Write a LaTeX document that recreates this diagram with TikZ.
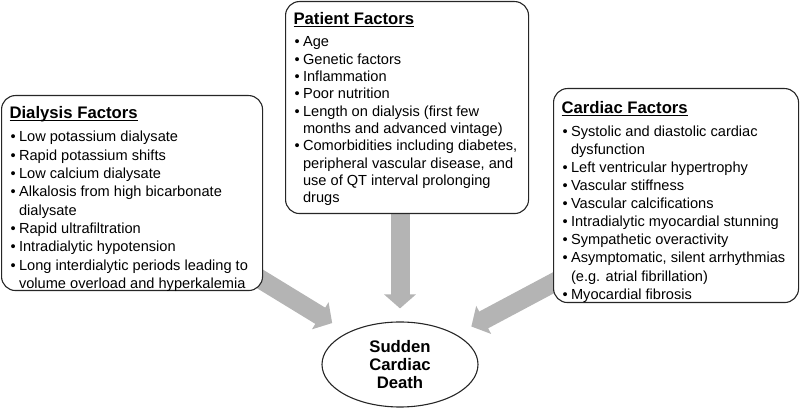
\documentclass[tikz,border=0pt]{standalone}
\usepackage{fontspec}
\setmainfont{Liberation Sans}
\usetikzlibrary{arrows.meta,shapes.geometric,backgrounds}

\definecolor{arrowgray}{HTML}{B4B4B4}
\newcommand{\titleline}[1]{\leavevmode\setbox0\hbox{#1}\rlap{\rule[-2.6pt]{\wd0}{1.1pt}}\box0}
\newcommand{\ftitle}[1]{{\fontsize{16.7}{20}\selectfont\bfseries\noindent\titleline{#1}\par}\vspace{5pt}}
\newcommand{\fitem}[1]{\par\hangindent=9.5pt\hangafter=1\noindent\makebox[9.5pt][l]{\hspace{1pt}\textbullet}#1}
% width, height, top gap, line skip, items
\newcommand{\factorlist}[5]{\parbox[t][#2][t]{#1}{\vspace*{#3}\raggedright\fontsize{14.6}{#4}\selectfont #5}}

\begin{document}
\begin{tikzpicture}[x=1pt,y=1pt,
  factor/.style={draw=black!85, line width=1.1pt, rounded corners=14pt, fill=white, inner xsep=8pt, inner ysep=0pt, anchor=north west},
  bigarrow/.style={draw=arrowgray, line width=19pt, -{Triangle[width=31pt,length=14pt]}}]
\useasboundingbox (0,0) rectangle (800,409);
\node[factor] (dial) at (1,314) {\factorlist{245pt}{195pt}{11pt}{18.3pt}{%
\ftitle{Dialysis Factors}
\fitem{Low potassium dialysate}
\fitem{Rapid potassium shifts}
\fitem{Low calcium dialysate}
\fitem{Alkalosis from high bicarbonate\newline dialysate}
\fitem{Rapid ultrafiltration}
\fitem{Intradialytic hypotension}
\fitem{Long interdialytic periods leading to\newline volume overload and hyperkalemia}}};
\node[factor] (pat) at (285,408) {\factorlist{227pt}{212pt}{11pt}{17.3pt}{%
\ftitle{Patient Factors}
\fitem{Age}
\fitem{Genetic factors}
\fitem{Inflammation}
\fitem{Poor nutrition}
\fitem{Length on dialysis (first few\newline months and advanced vintage)}
\fitem{Comorbidities including diabetes,\newline peripheral vascular disease, and\newline use of QT interval prolonging\newline drugs}}};
\node[factor] (card) at (553,321) {\factorlist{229pt}{214pt}{12.5pt}{18.1pt}{%
\ftitle{Cardiac Factors}
\fitem{Systolic and diastolic cardiac\newline dysfunction}
\fitem{Left ventricular hypertrophy}
\fitem{Vascular stiffness}
\fitem{Vascular calcifications}
\fitem{Intradialytic myocardial stunning}
\fitem{Sympathetic overactivity}
\fitem{Asymptomatic, silent arrhythmias\newline (e.g. atrial fibrillation)}
\fitem{Myocardial fibrosis}}};
\node[draw=black!85, line width=1.1pt, ellipse, minimum width=156pt, minimum height=85pt, inner sep=2pt,
  align=center, font=\fontsize{16.7}{18}\selectfont\bfseries] (scd) at (400,44.5) {Sudden\\Cardiac\\Death};
\coordinate (dialtail) at (193,171);
\coordinate (cardtail) at (630,167);
\begin{scope}[on background layer]
\path[bigarrow, shorten >=18pt] (dialtail) -- (scd);
\path[bigarrow, shorten >=13pt] (pat.south -| scd.north) -- (scd);
\path[bigarrow, shorten >=17pt] (cardtail) -- (scd);
\end{scope}
\end{tikzpicture}
\end{document}
